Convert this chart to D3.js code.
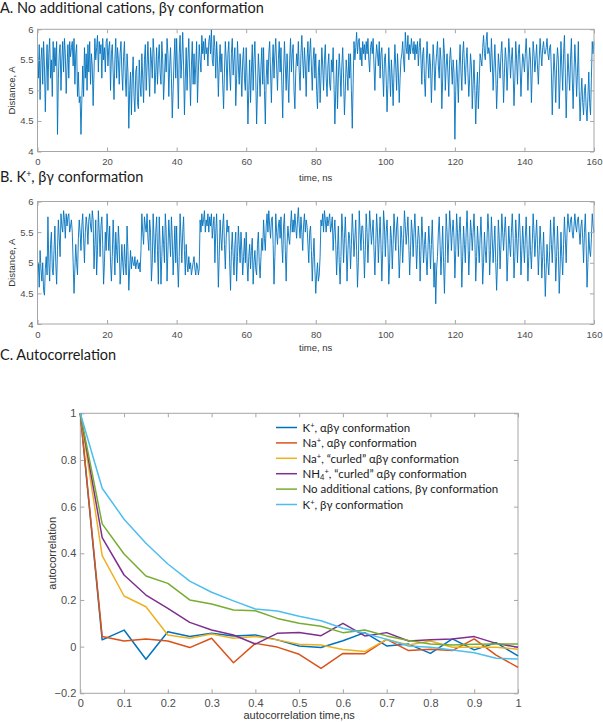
<!DOCTYPE html>
<html>
<head>
<meta charset="utf-8">
<script src="https://cdn.jsdelivr.net/npm/d3@7/dist/d3.min.js"></script>
<style>
  html, body { margin: 0; padding: 0; background: #fff; }
  svg { display: block; }
</style>
</head>
<body>
<svg id="chart" width="603" height="722"></svg>
<script>
// ---------------- DATA ----------------
const timeStepNs = 0.25;
const timeTicks = [0, 20, 40, 60, 80, 100, 120, 140, 160];
const distanceTicks = [4, 4.5, 5, 5.5, 6];

// Panel A: no additional cations, beta-gamma conformation (distance, A), one value per 0.25 ns
const distanceA = [
  5.6,5.2,5.75,4.85,5.5,5.7,5.1,5.8,5.4,4.65, 5.3,5.75,5.0,5.6,5.85,5.2,5.5,4.9,5.8,5.3,
  5.7,5.4,5.8,4.28,5.2,5.6,5.75,5.0,5.5,5.8, 5.3,5.85,5.6,4.95,5.4,5.75,5.2,5.8,5.55,5.7,
  5.8,5.4,5.85,5.1,5.6,5.75,4.9,5.3,4.8,4.9, 4.28,4.85,5.4,4.9,5.7,5.2,5.6,5.0,5.75,5.3,
  5.8,5.1,5.6,5.4,4.75,5.3,5.85,5.5,5.7,5.9, 5.3,5.8,5.6,5.75,5.2,5.85,5.5,5.7,5.3,5.8,
  5.85,5.4,5.7,5.8,5.0,5.6,5.75,5.3,4.85,5.5, 5.85,5.2,5.7,5.5,5.1,5.6,5.8,5.3,5.0,5.55,
  5.8,5.2,4.9,5.6,5.3,4.38,5.0,5.3,4.6,5.2, 5.55,4.9,4.65,5.3,5.4,4.8,4.7,5.5,5.1,4.9,
  5.6,5.2,4.8,5.5,5.75,5.0,5.4,5.8,5.3,4.9, 5.7,5.5,5.2,5.85,5.6,4.95,5.3,5.7,5.1,5.5,
  5.75,5.3,5.1,5.8,5.5,4.85,5.2,5.6,5.3,5.85, 5.6,4.9,5.4,5.7,5.2,4.55,5.0,5.5,5.85,5.2,
  5.85,5.3,4.7,5.6,5.9,5.2,5.5,5.95,5.4,4.6, 5.2,5.7,5.0,5.5,5.85,5.3,4.75,5.4,5.8,5.1,
  5.6,5.1,5.4,5.8,4.8,5.3,5.75,5.5,5.3,5.9, 5.6,5.8,5.5,5.85,5.6,5.7,5.4,5.8,5.9,5.6,
  6.0,5.5,5.4,5.9,5.7,5.2,5.8,5.5,4.9,5.4, 5.75,5.3,5.6,5.1,4.7,5.3,5.8,5.5,5.0,5.6,
  5.8,5.3,5.0,5.6,5.85,5.25,5.5,5.7,4.75,5.2, 5.8,5.4,5.1,5.6,5.3,4.9,5.5,5.7,5.2,5.0,
  5.7,5.2,4.45,5.0,5.5,4.8,5.3,5.75,5.0,5.5, 5.8,5.2,4.45,5.0,5.6,5.3,4.9,5.4,5.7,5.1,
  5.7,5.0,4.45,5.2,5.5,5.1,5.6,5.8,5.3,4.8, 5.4,5.75,5.2,5.6,5.85,5.4,5.0,5.5,5.8,5.3,
  5.7,5.1,4.55,5.3,5.8,5.4,5.0,5.6,5.2,4.8, 5.5,5.85,5.3,5.6,5.75,5.0,4.7,5.3,5.6,5.4,
  5.8,5.3,5.0,5.6,5.9,5.5,5.2,5.7,5.4,4.9, 5.5,5.8,5.3,5.6,5.85,5.4,5.0,5.5,5.7,5.2,
  5.6,5.0,4.7,5.3,5.5,4.8,5.2,5.7,5.4,5.0, 5.5,5.75,5.2,4.9,5.4,5.6,5.1,5.0,5.5,5.3,
  5.7,5.1,4.45,5.0,5.5,4.7,5.2,5.6,5.3,4.9, 5.4,5.7,5.2,4.6,5.0,5.5,5.3,5.0,5.6,5.2,
  5.6,5.0,4.38,5.1,5.8,5.5,5.7,5.95,5.6,5.8, 5.85,5.5,5.7,5.4,5.8,5.6,5.75,5.5,5.8,5.6,
  5.85,5.5,5.3,5.7,5.8,5.6,5.85,5.4,5.0,5.5, 5.75,5.6,5.4,5.8,5.2,5.6,5.7,5.3,4.9,5.5,
  5.6,5.2,4.65,5.1,5.7,5.3,4.9,5.5,5.2,4.75, 5.3,5.75,5.4,5.0,5.6,5.3,4.8,5.2,5.5,5.6,
  5.8,5.5,5.3,5.95,5.7,5.6,5.9,5.5,5.75,5.6, 5.85,5.7,5.6,5.8,5.5,5.75,5.6,5.8,5.4,5.7,
  5.85,5.5,5.1,5.6,5.7,5.2,4.9,5.4,5.8,5.5, 5.2,5.6,5.4,4.8,5.3,5.75,5.5,5.0,5.4,5.6,
  5.8,5.4,5.2,5.7,5.5,4.7,5.2,5.85,5.6,5.0, 5.4,5.6,5.3,4.9,5.5,5.7,5.4,5.1,5.5,5.3,
  4.2,5.0,5.5,5.2,4.8,5.4,5.75,5.3,5.0,5.6, 5.8,5.4,5.1,5.5,5.7,5.3,4.9,5.2,5.6,5.4,
  4.7,5.1,5.5,5.0,4.45,5.0,5.3,4.7,5.1,5.6, 5.5,5.4,5.7,5.9,5.6,5.5,5.8,5.95,5.6,5.7,
  5.6,5.3,5.85,5.5,5.0,5.4,5.75,5.3,4.7,5.1, 5.6,5.4,5.2,5.6,5.8,5.4,4.8,5.3,5.7,5.5,
  5.0,5.4,5.85,5.6,5.2,5.5,5.7,5.3,4.75,5.2, 5.8,5.5,5.1,5.6,5.75,5.4,4.9,5.3,5.6,5.5,
  5.3,5.6,5.85,5.5,5.0,5.4,5.7,5.5,4.8,5.3, 5.8,5.6,5.3,5.5,5.75,5.4,5.1,5.5,5.85,5.6,
  5.4,5.7,5.8,5.6,5.6,5.7,5.85,5.6,5.5,5.7, 5.75,5.3,4.6,5.2,5.6,5.3,4.8,5.4,5.7,5.5,
  4.7,5.2,5.8,5.4,5.0,5.6,5.9,5.3,4.55,5.1, 5.6,5.3,5.0,5.5,5.85,5.2,4.7,5.3,5.75,5.4,
  4.9,5.3,5.8,5.0,4.5,4.9,5.2,4.8,4.6,5.0, 5.1,4.7,4.5,4.9,5.3,4.8,4.6,5.2,5.8,5.6,
  5.8
];

// Panel B: K+, beta-gamma conformation (distance, A), one value per 0.25 ns
const distanceB = [
  4.8,5.0,4.6,5.2,4.9,4.7,5.0,4.55,4.47,4.9, 5.1,4.8,5.75,5.0,4.7,5.3,5.5,4.9,4.8,5.2,
  5.6,5.0,4.65,5.2,5.7,5.4,5.1,5.8,5.6,5.5, 5.85,5.7,5.4,5.8,5.6,5.75,5.8,5.5,5.6,5.7,
  5.5,5.0,4.5,4.9,5.3,5.0,4.8,5.4,5.7,5.5, 5.2,5.6,5.8,5.4,5.0,5.5,5.75,5.6,5.3,5.7,
  5.8,5.6,5.5,5.85,5.7,4.9,5.3,5.7,4.8,5.2, 5.85,5.5,5.1,5.6,5.75,5.3,4.65,5.0,5.5,5.2,
  5.8,5.5,5.2,5.6,5.0,4.7,5.1,5.7,5.3,4.8, 5.5,5.2,5.0,5.6,5.3,4.65,4.9,5.3,5.0,4.8,
  5.3,5.0,4.8,5.6,5.2,4.55,4.9,5.2,4.9,5.1, 5.0,4.95,5.1,4.9,5.0,5.05,4.9,5.0,4.85,5.2,
  5.8,5.5,5.3,5.75,5.6,5.5,5.8,5.4,5.2,5.7, 5.5,4.7,5.0,5.8,5.4,5.0,5.5,5.75,5.2,4.65,
  5.75,5.3,4.65,5.1,5.6,5.3,5.0,5.8,5.5,4.7, 5.2,5.7,5.4,5.1,5.75,5.4,4.8,5.2,5.6,5.0,
  5.6,5.0,4.6,5.1,5.8,5.4,5.0,5.5,5.75,5.2, 4.8,5.3,5.0,4.85,5.1,4.9,5.0,4.8,4.9,5.0,
  5.1,4.9,4.8,5.0,4.95,4.8,4.9,5.7,5.5,5.8, 5.6,5.7,5.85,5.5,5.7,5.6,5.8,5.5,5.75,5.6,
  5.8,5.4,5.6,5.75,5.0,5.5,5.8,5.3,4.6,5.1, 5.7,5.4,5.2,5.6,5.8,5.3,4.9,5.4,5.7,5.5,
  5.6,5.0,4.55,5.2,5.5,5.1,4.8,5.3,5.5,4.7, 5.1,5.6,5.3,5.0,5.5,5.2,4.8,5.1,5.4,5.0,
  5.5,5.0,4.7,5.1,5.3,4.9,5.2,5.4,4.65,5.0, 5.2,4.9,4.8,5.3,5.5,5.0,4.75,5.1,5.4,5.2,
  5.7,5.4,5.2,5.6,5.8,5.5,5.85,5.6,5.4,5.7, 5.75,5.3,4.65,5.1,5.8,5.5,5.3,5.6,5.7,5.4,
  5.75,5.3,5.0,5.6,5.8,5.2,4.7,5.3,5.6,5.4, 5.3,5.6,5.85,5.5,5.7,5.5,5.8,5.6,5.4,5.7,
  5.9,5.6,5.4,5.75,5.5,5.2,5.6,5.8,5.5,5.7, 5.6,5.3,5.0,5.5,5.6,5.2,4.7,5.1,5.4,4.9,
  4.5,4.8,5.0,4.7,4.8,5.1,5.7,5.6,5.8,5.5, 5.85,5.7,5.5,5.75,5.6,5.7,5.8,5.5,5.6,5.75,
  5.2,5.5,5.7,5.3,4.8,5.2,5.6,5.0,4.65,5.1, 5.8,5.5,5.0,5.4,5.75,5.3,4.7,5.2,5.5,5.4,
  4.9,5.3,5.8,5.5,5.1,5.4,5.7,5.2,4.6,5.0, 5.85,5.5,5.2,5.6,5.6,5.3,4.75,5.2,5.8,5.5,
  5.0,5.4,5.85,5.6,5.3,5.5,5.7,5.2,4.8,5.3, 5.8,5.5,5.0,5.4,5.75,5.3,4.7,5.2,5.85,5.6,
  5.1,5.5,5.7,5.3,4.65,5.0,5.6,5.4,4.9,5.3, 5.8,5.5,5.2,5.6,5.75,5.3,4.75,5.1,5.6,5.4,
  5.0,5.4,5.85,5.6,5.3,5.5,5.75,5.3,4.8,5.2, 5.7,5.5,5.1,5.5,5.8,5.4,4.9,5.3,5.6,5.4,
  4.7,5.2,5.75,5.4,5.0,5.3,5.5,5.1,4.8,5.2, 5.6,5.3,4.9,5.3,5.7,5.2,4.6,5.0,4.33,4.9,
  5.1,5.5,5.75,5.3,4.8,5.2,5.6,5.0,4.5,5.1, 5.8,5.5,5.0,5.4,5.85,5.6,5.2,5.5,5.7,5.4,
  4.75,5.2,5.8,5.5,5.1,5.5,5.75,5.3,4.6,5.1, 5.6,5.3,5.0,5.5,5.85,5.4,4.8,5.2,5.7,5.5,
  5.2,5.5,5.8,5.4,4.7,5.1,5.6,5.3,5.0,5.4, 5.75,5.3,4.65,5.0,5.5,5.2,5.0,5.4,5.8,5.5,
  4.8,5.2,5.75,5.4,5.0,5.3,5.6,5.0,4.55,5.0, 5.7,5.4,4.9,5.3,5.8,5.5,5.2,5.5,5.75,5.4,
  4.7,5.1,5.6,5.3,5.1,5.5,5.8,5.4,4.75,5.1, 5.7,5.4,5.0,5.4,5.8,5.5,4.8,5.2,5.6,5.3,
  5.0,5.4,5.75,5.3,4.7,5.1,5.6,5.2,4.9,5.3, 5.8,5.5,5.1,5.4,5.7,5.3,4.8,5.2,5.6,5.3,
  4.75,5.1,5.5,5.0,4.45,4.9,5.3,5.0,4.8,5.2, 5.7,5.3,5.0,5.4,5.75,5.3,4.7,5.1,5.6,5.2,
  4.5,4.9,5.5,5.1,4.8,5.3,5.75,5.4,5.0,5.5, 5.8,5.6,5.5,5.7,5.75,5.5,5.4,5.6,5.8,5.6,
  5.5,5.7,5.75,5.5,5.3,5.6,5.7,5.4,5.0,5.5, 5.8,5.3,4.6,5.0,5.5,5.2,5.1,5.4,5.8,5.6,
  5.5
];

// Panel C: autocorrelation
const lagTimes = [0, 0.05, 0.1, 0.15, 0.2, 0.25, 0.3, 0.35, 0.4, 0.45, 0.5,
                  0.55, 0.6, 0.65, 0.7, 0.75, 0.8, 0.85, 0.9, 0.95, 1.0];
const acfKAlphaBetaGamma   = [1, 0.029, 0.071, -0.054, 0.064, 0.043, 0.057, 0.046, 0.05, 0.029, 0.003,
                              -0.004, 0.025, 0.06, 0.003, 0.011, -0.029, 0.033, -0.014, 0.017, -0.04];
const acfNaAlphaBetaGamma  = [1, 0.043, 0.024, 0.033, 0.024, -0.004, 0.036, -0.069, 0.014, -0.002, -0.033,
                              -0.093, -0.029, -0.03, 0.031, -0.017, -0.011, -0.017, 0.033, -0.036, -0.089];
const acfNaCurled          = [1, 0.39, 0.217, 0.171, 0.05, 0.036, 0.054, 0.036, 0.043, 0.029, 0.01,
                              0.007, -0.012, -0.021, 0.031, 0.007, 0.024, -0.003, -0.003, -0.003, -0.011];
const acfNH4Curled         = [1, 0.467, 0.307, 0.221, 0.164, 0.104, 0.071, 0.05, 0.011, 0.057, 0.061,
                              0.047, 0.1, 0.046, 0.06, 0.024, 0.029, 0.033, 0.043, 0.014, -0.003];
const acfNoCationsBetaGamma = [1, 0.526, 0.397, 0.303, 0.271, 0.2, 0.183, 0.157, 0.154, 0.121, 0.1,
                              0.087, 0.06, 0.071, 0.046, 0.026, 0.011, 0.007, 0.01, 0.011, 0.011];
const acfKBetaGamma        = [1, 0.679, 0.546, 0.443, 0.354, 0.281, 0.233, 0.196, 0.161, 0.153, 0.13,
                              0.111, 0.079, 0.057, 0.031, 0.003, -0.003, -0.014, -0.026, -0.05, -0.053];
const acfTicksX = [0, 0.1, 0.2, 0.3, 0.4, 0.5, 0.6, 0.7, 0.8, 0.9, 1];
const acfTicksY = [-0.2, 0, 0.2, 0.4, 0.6, 0.8, 1];

const acfSeries = [
  { values: acfKAlphaBetaGamma,    color: "#0072BD", label: [["K"], ["+", "sup"], [", αβγ conformation"]] },
  { values: acfNaAlphaBetaGamma,   color: "#D95319", label: [["Na"], ["+", "sup"], [", αβγ conformation"]] },
  { values: acfNaCurled,           color: "#EDB120", label: [["Na"], ["+", "sup"], [", “curled” αβγ conformation"]] },
  { values: acfNH4Curled,          color: "#7E2F8E", label: [["NH"], ["4", "sub"], ["+", "supAfterSub"], [", “curled” αβγ conformation"]] },
  { values: acfNoCationsBetaGamma, color: "#77AC30", label: [["No additional cations, βγ conformation"]] },
  { values: acfKBetaGamma,         color: "#4DBEEE", label: [["K"], ["+", "sup"], [", βγ conformation"]] }
];

// ---------------- DRAWING ----------------
const svg = d3.select("#chart");
svg.append("rect").attr("width", 603).attr("height", 722).attr("fill", "#fff");

const TITLE_FONT = "Lato, 'Open Sans', sans-serif";
const AXIS_FONT = "'Liberation Sans', Arial, sans-serif";
const frameColor = "#a6a6a6";
const tickTextColor = "#4d4d4d";

function styleAxis(g) {
  g.select(".domain").remove();
  g.selectAll(".tick line").attr("stroke", frameColor).attr("stroke-width", 1);
  g.selectAll(".tick text").attr("fill", tickTextColor).attr("font-family", AXIS_FONT);
}

function tracePanel(values, box, titleParts, titleY, xLabelY) {
  const x = d3.scaleLinear().domain([0, 160]).range([box.left, box.right]);
  const y = d3.scaleLinear().domain([4, 6]).range([box.bottom, box.top]);
  const g = svg.append("g");

  const t = g.append("text").attr("x", 0).attr("y", titleY)
    .attr("font-family", TITLE_FONT).attr("font-size", 14.5).attr("fill", "#1a1a1a");
  titleParts.forEach(p => {
    const ts = t.append("tspan").text(p[0]);
    if (p[1] === "sup") ts.attr("font-size", 9).attr("dy", -5);
    if (p[1] === "after") ts.attr("dy", 5);
  });

  const line = d3.line().x((d, i) => x(i * timeStepNs)).y(d => y(d));
  g.append("path").datum(values).attr("d", line)
    .attr("fill", "none").attr("stroke", "#0072BD").attr("stroke-width", 0.9)
    .attr("stroke-linejoin", "bevel");

  g.append("rect").attr("x", box.left).attr("y", box.top)
    .attr("width", box.right - box.left).attr("height", box.bottom - box.top)
    .attr("fill", "none").attr("stroke", frameColor).attr("stroke-width", 1);

  g.append("g").attr("transform", `translate(0,${box.bottom})`)
    .call(d3.axisBottom(x).tickValues(timeTicks).tickSizeInner(-4).tickSizeOuter(0).tickPadding(7))
    .call(styleAxis).selectAll("text").attr("font-size", 9.5);
  g.append("g").attr("transform", `translate(0,${box.top})`)
    .call(d3.axisTop(x).tickValues(timeTicks).tickSizeInner(-4).tickSizeOuter(0).tickFormat(""))
    .call(styleAxis);
  g.append("g").attr("transform", `translate(${box.left},0)`)
    .call(d3.axisLeft(y).tickValues(distanceTicks).tickSizeInner(-4).tickSizeOuter(0).tickPadding(4).tickFormat(d3.format("~g")))
    .call(styleAxis).selectAll("text").attr("font-size", 9.5);
  g.append("g").attr("transform", `translate(${box.right},0)`)
    .call(d3.axisRight(y).tickValues(distanceTicks).tickSizeInner(-4).tickSizeOuter(0).tickFormat(""))
    .call(styleAxis);

  g.append("text").attr("x", (box.left + box.right) / 2).attr("y", xLabelY)
    .attr("text-anchor", "middle").attr("dominant-baseline", "middle")
    .attr("font-family", AXIS_FONT).attr("font-size", 9.5).attr("fill", "#333").text("time, ns");
  g.append("text")
    .attr("transform", `translate(12,${(box.top + box.bottom) / 2}) rotate(-90)`)
    .attr("text-anchor", "middle").attr("dominant-baseline", "middle")
    .attr("font-family", AXIS_FONT).attr("font-size", 9.5).attr("fill", "#333").text("Distance, A");
}

tracePanel(distanceA, { left: 37.5, right: 594, top: 29.3, bottom: 151.5 },
  [["A. No additional cations, βγ conformation"]], 12.5, 178);
tracePanel(distanceB, { left: 37.5, right: 594, top: 201.5, bottom: 324 },
  [["B. K"], ["+", "sup"], [", βγ conformation", "after"]], 181.5, 348);

// Panel C
(function () {
  const box = { left: 80.3, right: 518, top: 413.3, bottom: 693.3 };
  const x = d3.scaleLinear().domain([0, 1]).range([box.left, box.right]);
  const y = d3.scaleLinear().domain([-0.2, 1]).range([box.bottom, box.top]);
  const g = svg.append("g");

  g.append("text").attr("x", 0).attr("y", 360)
    .attr("font-family", TITLE_FONT).attr("font-size", 14.5).attr("fill", "#1a1a1a")
    .text("C. Autocorrelation");

  g.append("rect").attr("x", box.left).attr("y", box.top)
    .attr("width", box.right - box.left).attr("height", box.bottom - box.top)
    .attr("fill", "none").attr("stroke", frameColor).attr("stroke-width", 1);

  g.append("g").attr("transform", `translate(0,${box.bottom})`)
    .call(d3.axisBottom(x).tickValues(acfTicksX).tickSizeInner(-4).tickSizeOuter(0).tickPadding(5.5).tickFormat(d3.format("~g")))
    .call(styleAxis).selectAll("text").attr("font-size", 11);
  g.append("g").attr("transform", `translate(0,${box.top})`)
    .call(d3.axisTop(x).tickValues(acfTicksX).tickSizeInner(-4).tickSizeOuter(0).tickFormat(""))
    .call(styleAxis);
  g.append("g").attr("transform", `translate(${box.left},0)`)
    .call(d3.axisLeft(y).tickValues(acfTicksY).tickSizeInner(-4).tickSizeOuter(0).tickPadding(4).tickFormat(d3.format("~g")))
    .call(styleAxis).selectAll("text").attr("font-size", 11);
  g.append("g").attr("transform", `translate(${box.right},0)`)
    .call(d3.axisRight(y).tickValues(acfTicksY).tickSizeInner(-4).tickSizeOuter(0).tickFormat(""))
    .call(styleAxis);

  const line = d3.line().x((d, i) => x(lagTimes[i])).y(d => y(d));
  acfSeries.forEach(s => {
    g.append("path").datum(s.values).attr("d", line)
      .attr("fill", "none").attr("stroke", s.color).attr("stroke-width", 1.5)
      .attr("stroke-linejoin", "round");
  });

  g.append("text").attr("x", (box.left + box.right) / 2).attr("y", 716.5)
    .attr("text-anchor", "middle").attr("dominant-baseline", "middle")
    .attr("font-family", AXIS_FONT).attr("font-size", 11).attr("fill", "#333").text("autocorrelation time,ns");
  g.append("text")
    .attr("transform", `translate(53.5,${(box.top + box.bottom) / 2}) rotate(-90)`)
    .attr("text-anchor", "middle").attr("dominant-baseline", "middle")
    .attr("font-family", AXIS_FONT).attr("font-size", 11).attr("fill", "#333").text("autocorrelation");

  const legRowY = d3.scaleLinear().domain([0, 5]).range([427.5, 504.5]);
  acfSeries.forEach((s, i) => {
    const ly = legRowY(i);
    g.append("line").attr("x1", 276).attr("x2", 297).attr("y1", ly).attr("y2", ly)
      .attr("stroke", s.color).attr("stroke-width", 1.5);
    const t = g.append("text").attr("x", 302.5).attr("y", ly + 4.2)
      .attr("font-family", TITLE_FONT).attr("font-size", 11.5).attr("fill", "#1a1a1a");
    let shift = 0;
    s.label.forEach(p => {
      const ts = t.append("tspan").text(p[0]);
      let target = 0;
      if (p[1] === "sup" || p[1] === "supAfterSub") { ts.attr("font-size", 7.5); target = -4; }
      else if (p[1] === "sub") { ts.attr("font-size", 7.5); target = 2.5; }
      ts.attr("dy", target - shift);
      shift = target;
    });
  });
})();
</script>
</body>
</html>
